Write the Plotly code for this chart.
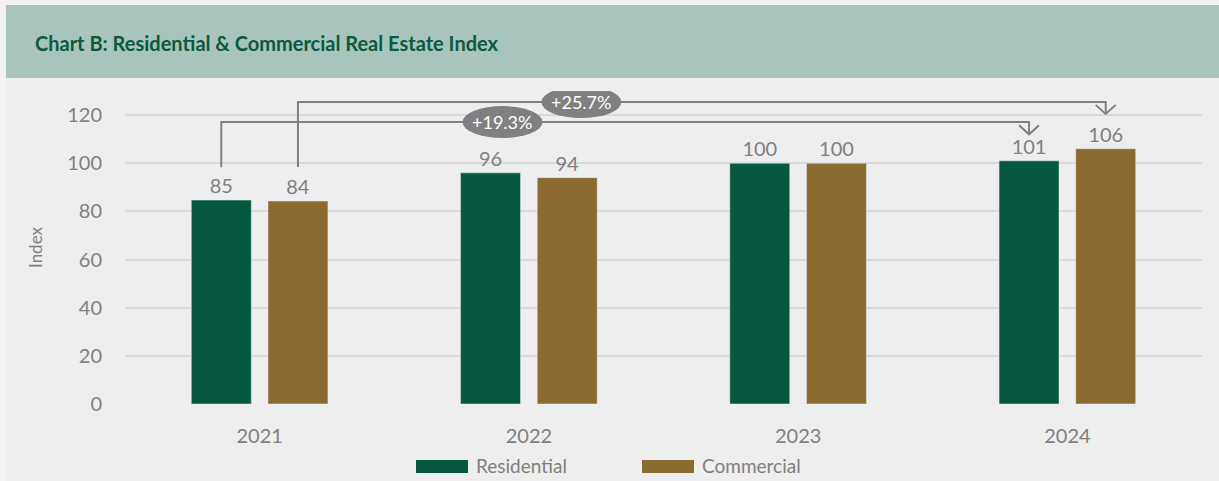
import plotly.graph_objects as go

years = ["2021", "2022", "2023", "2024"]
residential = [84.7, 96, 100, 101]
commercial = [84.3, 94, 100, 106]
res_labels = ["85", "96", "100", "101"]
com_labels = ["84", "94", "100", "106"]
y_ticks = [0, 20, 40, 60, 80, 100, 120]
changes = ["+19.3%", "+25.7%"]

GREEN = "#05573f"
BROWN = "#8b6a30"
GREY = "#808080"
FONT = "Lato"

# plot area geometry (pixels)
L, R, T, B = 125, 1202, 91, 404
W, H = R - L, B - T


def px(x):
    return (x - L) / W


def py(y):
    return (B - y) / H


fig = go.Figure()
fig.add_trace(go.Bar(x=years, y=residential, name="Residential", marker_color=GREEN,
                     text=res_labels, textposition="outside", cliponaxis=False,
                     textfont=dict(color=GREY, size=20, family=FONT), showlegend=False))
fig.add_trace(go.Bar(x=years, y=commercial, name="Commercial", marker_color=BROWN,
                     text=com_labels, textposition="outside", cliponaxis=False,
                     textfont=dict(color=GREY, size=20, family=FONT), showlegend=False))

shapes = []
annotations = []

# outer light frame
shapes.append(dict(type="rect", xref="paper", yref="paper", x0=px(0), x1=px(6), y0=py(481), y1=py(0),
                   fillcolor="#f2f2f2", line=dict(width=0), layer="below"))
shapes.append(dict(type="rect", xref="paper", yref="paper", x0=px(0), x1=px(1219), y0=py(5), y1=py(0),
                   fillcolor="#f2f2f2", line=dict(width=0), layer="below"))
# title band
shapes.append(dict(type="rect", xref="paper", yref="paper", x0=px(6), x1=px(1219), y0=py(78), y1=py(5),
                   fillcolor="#a8c4bc", line=dict(width=0), layer="below"))
annotations.append(dict(xref="paper", yref="paper", x=px(33), y=py(43), xanchor="left", yanchor="middle",
                        text="<b>Chart B: Residential & Commercial Real Estate Index</b>", showarrow=False,
                        font=dict(family=FONT, size=20, color="#0b5a3e")))

# brackets: offsets within the category
off = 0.2848 / 2
brackets = [
    # (start x, start y, top y, end x, end y, label x, change)
    (0 - off, residential[0] + 13.6, 117.1, 3 - off, 112.0, 0.902, changes[0]),
    (0 + off, commercial[0] + 14.1, 125.4, 3 + off, 120.5, 1.195, changes[1]),
]
for sx, sy, ty, ex, ey, lx, lab in brackets:
    shapes.append(dict(type="path", xref="x", yref="y",
                       path=f"M{sx},{sy} L{sx},{ty} L{ex},{ty} L{ex},{ey}",
                       line=dict(color=GREY, width=2)))
    shapes.append(dict(type="path", xref="x", yref="y", xsizemode="pixel", ysizemode="pixel",
                       xanchor=ex, yanchor=ey, path="M-10,9 L0,0 L10,9",
                       line=dict(color=GREY, width=2)))
    shapes.append(dict(type="circle", xref="x", yref="y", xsizemode="pixel", ysizemode="pixel",
                       xanchor=lx, yanchor=ty, x0=-40, x1=40, y0=-16, y1=16,
                       fillcolor=GREY, line=dict(width=0)))
    annotations.append(dict(xref="x", yref="y", x=lx, y=ty, text=lab, showarrow=False,
                            font=dict(family=FONT, size=18, color="white")))

# legend (manual)
for (x0, x1, tx, name, col) in [(416, 468, 474, "Residential", GREEN), (642, 694, 700, "Commercial", BROWN)]:
    shapes.append(dict(type="rect", xref="paper", yref="paper", x0=px(x0), x1=px(x1), y0=py(473), y1=py(460),
                       fillcolor=col, line=dict(width=0)))
    annotations.append(dict(xref="paper", yref="paper", x=px(tx), y=py(466), xanchor="left", yanchor="middle",
                            text=name, showarrow=False, font=dict(family=FONT, size=19, color=GREY)))

fig.update_layout(
    width=1219, height=481,
    margin=dict(l=L, r=1219 - R, t=T, b=481 - B),
    paper_bgcolor="#eeeeee", plot_bgcolor="#eeeeee",
    barmode="group", bargap=0.4304, bargroupgap=0.218,
    font=dict(family=FONT, color=GREY),
    shapes=shapes, annotations=annotations,
    showlegend=False,
)
fig.update_xaxes(type="category", showgrid=False, zeroline=False, showline=False, ticks="",
                 tickfont=dict(size=20, color=GREY, family=FONT), ticklabelstandoff=18)
fig.update_yaxes(range=[0, 130], tickvals=y_ticks, showgrid=True, gridcolor="#d9d9d9", gridwidth=1.5,
                 zeroline=False, showline=False, ticks="",
                 tickfont=dict(size=20, color=GREY, family=FONT), ticklabelstandoff=22,
                 title=dict(text="Index", font=dict(size=17, color=GREY, family=FONT), standoff=20))

fig.write_html("out.html", config={"displayModeBar": False},
               post_script="document.body.style.margin='0';document.body.style.overflow='hidden';")
